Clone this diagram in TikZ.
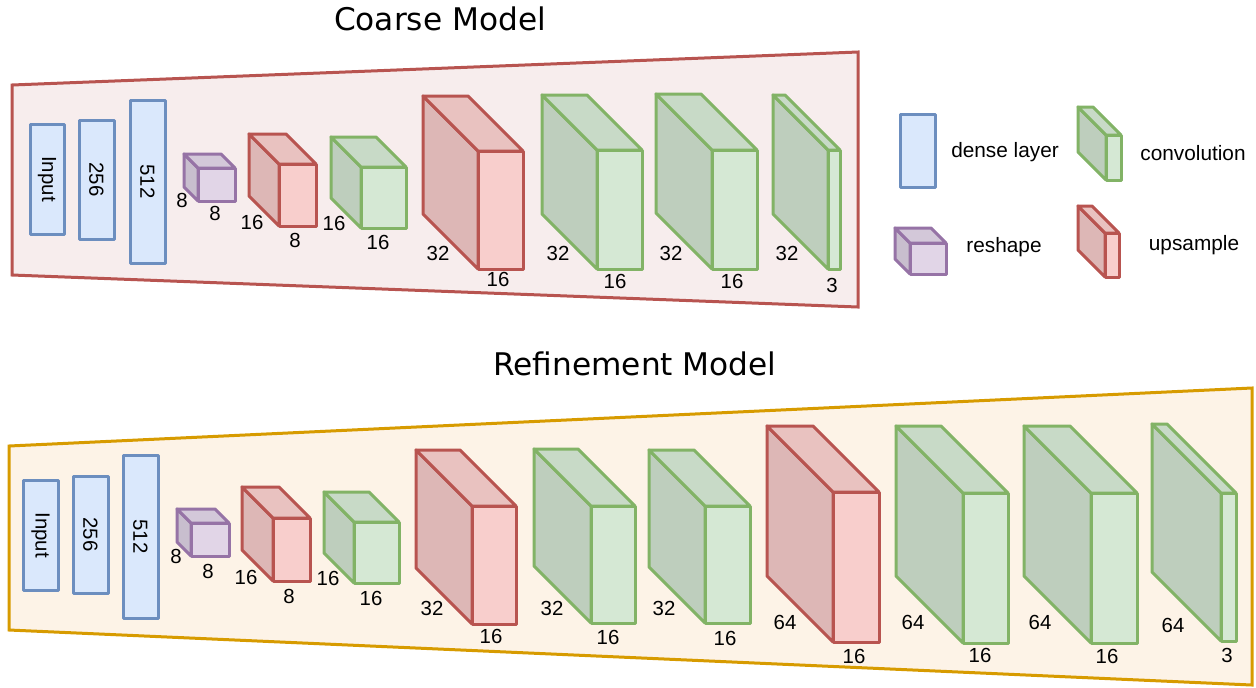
\documentclass[tikz,border=0pt]{standalone}
\usepackage{fontspec}
\setmainfont{Liberation Sans}
\newfontfamily\titlefont{DejaVu Sans}
\definecolor{bluF}{HTML}{DAE8FC}\definecolor{bluL}{HTML}{6C8EBF}
\definecolor{grnF}{HTML}{D5E8D4}\definecolor{grnL}{HTML}{82B366}
\definecolor{redF}{HTML}{F8CECC}\definecolor{redL}{HTML}{B85450}
\definecolor{purF}{HTML}{E1D5E7}\definecolor{purL}{HTML}{9673A6}
\colorlet{grnT}{grnF!94!black}\colorlet{grnS}{grnF!89!black}
\colorlet{redT}{redF!94!black}\colorlet{redS}{redF!89!black}
\colorlet{purT}{purF!94!black}\colorlet{purS}{purF!89!black}
\definecolor{coarseBg}{HTML}{F7EDED}\definecolor{coarseL}{HTML}{B85450}
\definecolor{refBg}{HTML}{FDF3E7}\definecolor{refL}{HTML}{D79B00}
\tikzset{
  face/.style={line width=1.5pt, line join=round},
  lbl/.style={font=\fontsize{10.2}{12}\selectfont, inner sep=0pt},
  leg/.style={font=\fontsize{10.4}{12}\selectfont, inner sep=0pt},
  ttl/.style={font=\titlefont\fontsize{15.6}{18}\selectfont, inner sep=0pt, anchor=base},
  dense/.style={face, draw=bluL, fill=bluF, inner sep=0pt, outer sep=0pt},
  panel/.style={line width=1.5pt, line join=miter},
}
% name, x, y (front top-left), w, h, depth, colour key
\newcommand\lcube[7]{%
  \filldraw[face, fill=#7S, draw=#7L] (#2,#3) -- ++(-#6,-#6) -- ++(0,#5) -- ++(#6,#6) -- cycle;
  \filldraw[face, fill=#7T, draw=#7L] (#2,#3) -- ++(-#6,-#6) -- ++(#4,0) -- ++(#6,#6) -- cycle;
  \node[face, fill=#7F, draw=#7L, anchor=north west, inner sep=0pt, outer sep=0pt,
        minimum width=#4*0.5pt, minimum height=#5*0.5pt] (#1) at (#2,#3) {};
}
% name, x1, y1, x2, y2, text
\newcommand\dlayer[6]{%
  \draw[dense] (#2,#3) rectangle (#4,#5);
  \node[lbl, rotate=-90] (#1) at ({(#2+#4)/2},{(#3+#5)/2}) {#6};
}
\begin{document}
\begin{tikzpicture}[x=0.5pt,y=-0.5pt]
\useasboundingbox (0,0) rectangle (1256,687);
% panels
\filldraw[panel, fill=coarseBg, draw=coarseL] (12,85) -- (858,52) -- (858,307) -- (12,275) -- cycle;
\filldraw[panel, fill=refBg, draw=refL] (9,446) -- (1252,388) -- (1252,685) -- (9,630) -- cycle;
\node[ttl] (t1) at (440,30) {Coarse Model};
\node[ttl] (t2) at (635,375) {Refinement Model};
% ---- coarse model
\dlayer{c1}{30}{124}{64}{234}{Input}
\dlayer{c2}{79}{120}{114}{239}{256}
\dlayer{c3}{130}{100}{165}{263}{512}
\lcube{c4}{198}{168}{37}{33}{14}{pur}
\lcube{c5}{279}{164}{37}{62}{30}{red}
\lcube{c6}{361}{167}{45}{61}{30}{grn}
\lcube{c7}{478}{151}{45}{118}{55}{red}
\lcube{c8}{597}{150}{45}{119}{55}{grn}
\lcube{c9}{712}{150}{45}{119}{56}{grn}
\lcube{c10}{828}{150}{12}{119}{55}{grn}
\node[lbl] (c4d) at (182,200) {8};  \node[lbl] (c4w) at (215,213) {8};
\node[lbl] (c5d) at (252,222) {16}; \node[lbl] (c5w) at (295,240) {8};
\node[lbl] (c6d) at (334,223) {16}; \node[lbl] (c6w) at (378,242) {16};
\node[lbl] (c7d) at (438,253) {32}; \node[lbl] (c7w) at (498,279) {16};
\node[lbl] (c8d) at (558,253) {32}; \node[lbl] (c8w) at (615,281) {16};
\node[lbl] (c9d) at (671,253) {32}; \node[lbl] (c9w) at (732,281) {16};
\node[lbl] (c10d) at (787,253) {32}; \node[lbl] (c10w) at (832,285) {3};
% ---- legend
\draw[dense] (900,114) rectangle (935,187);
\node[leg] (ldense) at (1005,152) {dense layer};
\lcube{lconv}{1106}{135}{15}{45}{28}{grn}
\node[leg] (lconvt) at (1193,153) {convolution};
\lcube{lresh}{910}{243}{36}{31}{15}{pur}
\node[leg] (lresht) at (1004,247) {reshape};
\lcube{lup}{1105}{233}{14}{44}{27}{red}
\node[leg] (lupt) at (1194,245) {upsample};
% ---- refinement model
\dlayer{r1}{23}{480}{58}{590}{Input}
\dlayer{r2}{73}{476}{108}{593}{256}
\dlayer{r3}{123}{455}{158}{618}{512}
\lcube{r4}{191}{523}{38}{33}{14}{pur}
\lcube{r5}{273}{518}{37}{63}{31}{red}
\lcube{r6}{354}{522}{45}{61}{30}{grn}
\lcube{r7}{472}{506}{44}{118}{56}{red}
\lcube{r8}{591}{506}{44}{117}{57}{grn}
\lcube{r9}{705}{506}{45}{117}{56}{grn}
\lcube{r10}{833}{492}{46}{150}{66}{red}
\lcube{r11}{963}{493}{45}{150}{67}{grn}
\lcube{r12}{1091}{493}{46}{150}{67}{grn}
\lcube{r13}{1221}{493}{15}{148}{69}{grn}
\node[lbl] (r4d) at (176,556) {8};  \node[lbl] (r4w) at (208,571) {8};
\node[lbl] (r5d) at (246,577) {16}; \node[lbl] (r5w) at (289,596) {8};
\node[lbl] (r6d) at (328,578) {16}; \node[lbl] (r6w) at (371,598) {16};
\node[lbl] (r7d) at (432,608) {32}; \node[lbl] (r7w) at (491,636) {16};
\node[lbl] (r8d) at (552,608) {32}; \node[lbl] (r8w) at (608,637) {16};
\node[lbl] (r9d) at (664,608) {32}; \node[lbl] (r9w) at (725,638) {16};
\node[lbl] (r10d) at (785,622) {64}; \node[lbl] (r10w) at (854,656) {16};
\node[lbl] (r11d) at (913,622) {64}; \node[lbl] (r11w) at (980,655) {16};
\node[lbl] (r12d) at (1040,622) {64}; \node[lbl] (r12w) at (1107,656) {16};
\node[lbl] (r13d) at (1173,625) {64}; \node[lbl] (r13w) at (1227,655) {3};
\end{tikzpicture}
\end{document}
